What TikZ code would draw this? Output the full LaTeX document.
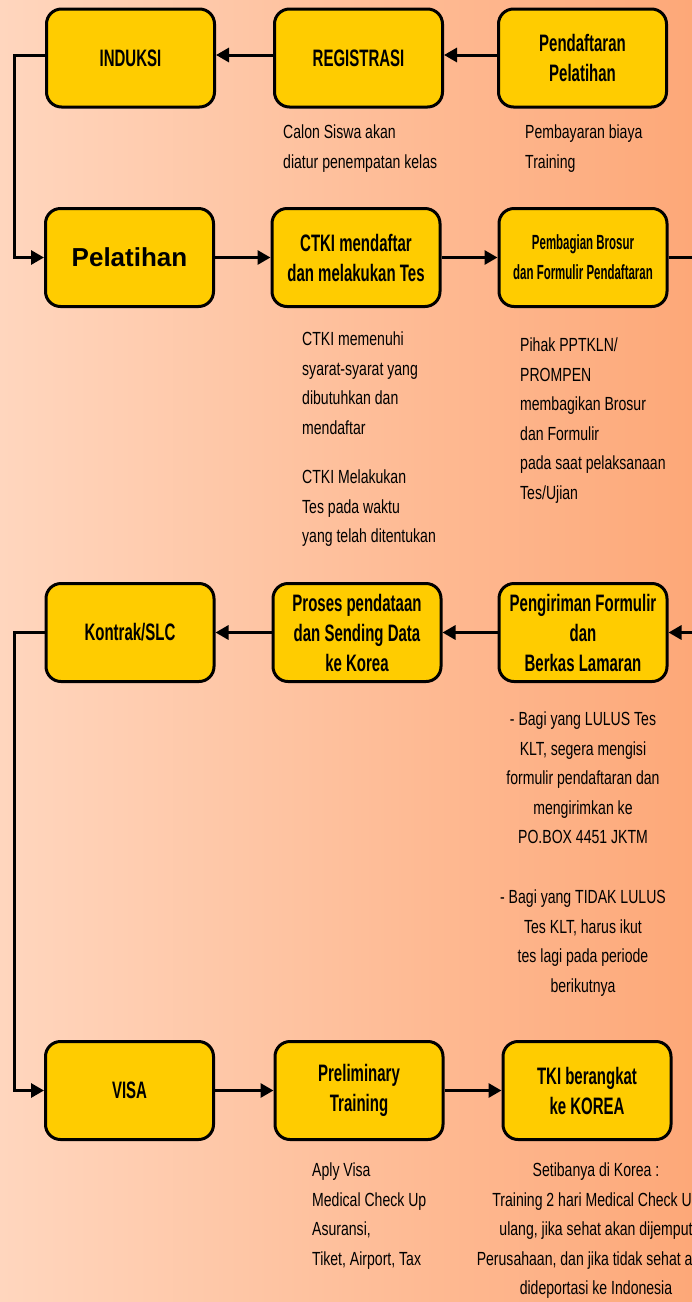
\documentclass[tikz,border=0pt]{standalone}
\usepackage{fontspec}
\setmainfont{Liberation Sans}[FakeStretch=0.74]
\newfontfamily\tfont{Liberation Sans}[FakeStretch=0.63]
\newfontfamily\sfont{Liberation Sans}[FakeStretch=0.56]
\newfontfamily\wfont{Liberation Sans}
\usetikzlibrary{arrows.meta}
\definecolor{boxy}{RGB}{255,204,0}
\definecolor{bgl}{RGB}{255,214,190}
\definecolor{bgr}{RGB}{253,168,120}
\tikzset{
  stepbox/.style={draw=black, line width=3pt, fill=boxy, rounded corners=15pt,
    minimum width=168pt, minimum height=98pt, align=center, inner sep=2pt,
    font=\tfont\bfseries\fontsize{23.8}{30}\selectfont},
  arr/.style={line width=3pt, -{Triangle[length=13pt,width=14pt]}},
  lbl/.style={inner sep=0pt, align=left, anchor=north west,
    font=\fontsize{19}{29.5}\selectfont},
  clbl/.style={lbl, align=center, anchor=north},
}
\begin{document}
\begin{tikzpicture}[x=1pt,y=-1pt]
\useasboundingbox (0,0) rectangle (692,1302);
\clip (0,0) rectangle (692,1302);
\shade[left color=bgl, right color=bgr] (0,0) rectangle (692,1302);

% row 1
\node[stepbox] (ind) at (130.5,58) {INDUKSI};
\node[stepbox] (reg) at (358.5,58) {REGISTRASI};
\node[stepbox] (pdf) at (582.5,58) {Pendaftaran\\Pelatihan};
% row 2
\node[stepbox, font=\wfont\bfseries\fontsize{26}{30}\selectfont] (pel) at (129.5,257.5) {Pelatihan};
\node[stepbox] (ctk) at (356,257.5) {CTKI mendaftar\\dan melakukan Tes};
\node[stepbox, font=\sfont\bfseries\fontsize{20.5}{30}\selectfont] (pem) at (583,257.5) {Pembagian Brosur\\dan Formulir Pendaftaran};
% row 3
\node[stepbox] (kon) at (130,632.5) {Kontrak/SLC};
\node[stepbox] (pro) at (357,632.5) {Proses pendataan\\dan Sending Data\\ke Korea};
\node[stepbox] (pen) at (583,632.5) {Pengiriman Formulir\\dan\\Berkas Lamaran};
% row 4
\node[stepbox] (vis) at (129.5,1090.5) {VISA};
\node[stepbox] (pre) at (359,1090.5) {Preliminary\\Training};
\node[stepbox] (tki) at (587,1090.5) {TKI berangkat\\ke KOREA};

% helper coordinates for the routed connectors
\coordinate (lx) at (14,0);
\coordinate (rx) at (704,0);

% connectors
\draw[arr] ([yshift=3pt]pdf.west) -- ([yshift=3pt]reg.east);
\draw[arr] ([yshift=3pt]reg.west) -- ([yshift=3pt]ind.east);
\draw[arr] ([yshift=3pt]ind.west) -| (lx |- pel.west) -- (pel.west);
\draw[arr] (pel.east) -- (ctk.west);
\draw[arr] (ctk.east) -- (pem.west);
\draw[arr] (pem.east) -| (rx |- pen.east) -- (pen.east);
\draw[arr] (pen.west) -- (pro.east);
\draw[arr] (pro.west) -- (kon.east);
\draw[arr] (kon.west) -| (lx |- vis.west) -- (vis.west);
\draw[arr] (vis.east) -- (pre.west);
\draw[arr] (pre.east) -- (tki.west);

% descriptions
\node[lbl] (t1) at (283,125) {Calon Siswa akan\\diatur penempatan kelas};
\node[lbl] (t2) at (525,125) {Pembayaran biaya\\Training};
\node[lbl] (t3) at (302,332) {CTKI memenuhi\\syarat-syarat yang\\dibutuhkan dan\\mendaftar};
\node[lbl] (t4) at (302,470) {CTKI Melakukan\\Tes pada waktu\\yang telah ditentukan};
\node[lbl] (t5) at (520,338) {Pihak PPTKLN/\\PROMPEN\\membagikan Brosur\\dan Formulir\\pada saat pelaksanaan\\Tes/Ujian};
\node[clbl] (t6) at (583,712) {- Bagi yang LULUS Tes\\KLT, segera mengisi\\formulir pendaftaran dan\\mengirimkan ke\\PO.BOX 4451 JKTM};
\node[clbl] (t7) at (583,890) {- Bagi yang TIDAK LULUS\\Tes KLT, harus ikut\\tes lagi pada periode\\berikutnya};
\node[lbl] (t8) at (312,1163) {Aply Visa\\Medical Check Up\\Asuransi,\\Tiket, Airport, Tax};
\node[clbl] (t9) at (596,1163) {Setibanya di Korea :\\Training 2 hari Medical Check Up\\ulang, jika sehat akan dijemput\\Perusahaan, dan jika tidak sehat akan\\dideportasi ke Indonesia};
\end{tikzpicture}
\end{document}
